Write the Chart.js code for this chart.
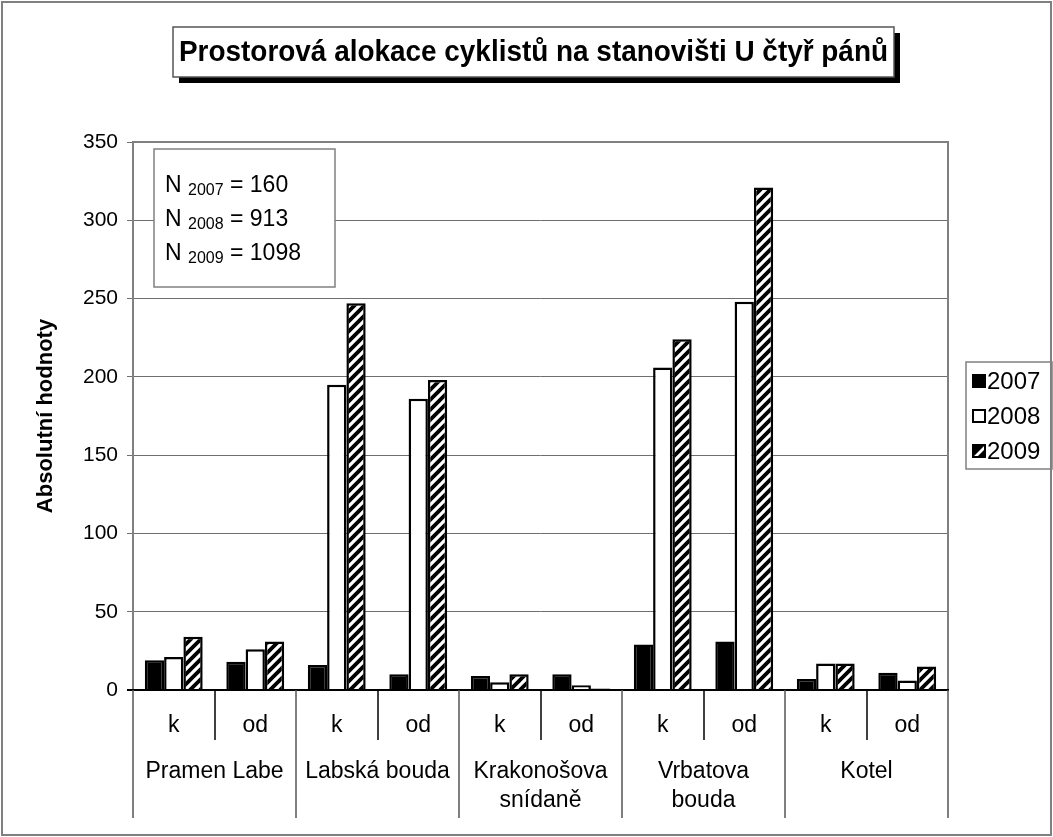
<!DOCTYPE html>
<html>
<head>
<meta charset="utf-8">
<title>Prostorová alokace cyklistů</title>
<script src="https://cdn.jsdelivr.net/npm/chart.js@4.4.1/dist/chart.umd.min.js"></script>
<style>
  body { margin: 0; background: #fff; }
  canvas { display: block; }
</style>
</head>
<body>
<canvas id="alokaceChart" width="1053" height="837"></canvas>
<script>
const stations = ["Pramen Labe", "Labská bouda", ["Krakonošova", "snídaně"], ["Vrbatova", "bouda"], "Kotel"];
const directions = ["k", "od"];
const years = ["2007", "2008", "2009"];

const values2007 = [19, 18, 16, 10, 9, 10, 29, 31, 7, 11];
const values2008 = [21, 26, 195, 186, 5, 3, 206, 248, 17, 6];
const values2009 = [34, 31, 247, 198, 10, 1, 224, 321, 17, 15];

const nTotals = [160, 913, 1098];
const yMax = 350;
const yStep = 50;

const titleText = "Prostorová alokace cyklistů na stanovišti U čtyř pánů";
const yTitle = "Absolutní hodnoty";

const labels = [];
stations.forEach(() => directions.forEach(d => labels.push(d)));

const FONT = "'Liberation Sans', Arial, sans-serif";

// diagonal hatch used for 2009
function makeHatch() {
  const c = document.createElement("canvas");
  c.width = 10;
  c.height = 10;
  const g = c.getContext("2d");
  g.fillStyle = "#fff";
  g.fillRect(0, 0, 10, 10);
  g.strokeStyle = "#000";
  g.lineWidth = 3.8;
  g.beginPath();
  g.moveTo(-5, 5); g.lineTo(5, -5);
  g.moveTo(0, 10); g.lineTo(10, 0);
  g.moveTo(5, 15); g.lineTo(15, 5);
  g.stroke();
  return g.createPattern(c, "repeat");
}
const hatch = makeHatch();
const fills = ["#000", "#fff", hatch];

const decorations = {
  id: "decorations",
  afterDraw(chart) {
    const ctx = chart.ctx;
    const area = chart.chartArea;
    const xs = chart.scales.x;
    ctx.save();

    // outer frame
    ctx.strokeStyle = "#808080";
    ctx.lineWidth = 2;
    ctx.strokeRect(2, 2, 1049, 833);

    // plot frame
    ctx.strokeStyle = "#808080";
    ctx.lineWidth = 2;
    ctx.strokeRect(area.left, area.top, area.right - area.left, area.bottom - area.top);
    ctx.strokeStyle = "#000";
    ctx.beginPath();
    ctx.moveTo(area.left - 6, area.bottom);
    ctx.lineTo(area.right + 1, area.bottom);
    ctx.stroke();

    // category axis: separators and two rows of labels
    const half = (xs.getPixelForValue(1) - xs.getPixelForValue(0)) / 2;
    ctx.lineWidth = 1.5;
    for (let i = 0; i <= labels.length; i++) {
      const x = Math.round(i < labels.length ? xs.getPixelForValue(i) - half : xs.getPixelForValue(i - 1) + half);
      ctx.strokeStyle = i % 2 === 0 ? "#555" : "#000";
      ctx.beginPath();
      ctx.moveTo(x, area.bottom);
      ctx.lineTo(x, i % 2 === 0 ? 818 : 740);
      ctx.stroke();
    }
    ctx.fillStyle = "#000";
    ctx.textAlign = "center";
    ctx.textBaseline = "middle";
    ctx.font = "23px " + FONT;
    labels.forEach((l, i) => ctx.fillText(l, xs.getPixelForValue(i), 726));
    stations.forEach((s, i) => {
      const cx = (xs.getPixelForValue(i * 2) + xs.getPixelForValue(i * 2 + 1)) / 2;
      const lines = Array.isArray(s) ? s : [s];
      lines.forEach((line, j) => ctx.fillText(line, cx, 772 + j * 29));
    });

    // y axis title
    ctx.save();
    ctx.translate(46, 416);
    ctx.rotate(-Math.PI / 2);
    ctx.font = "bold 22px " + FONT;
    ctx.fillText(yTitle, 0, 0);
    ctx.restore();

    // title box with shadow
    ctx.fillStyle = "#000";
    ctx.fillRect(179, 33, 721, 50);
    ctx.fillStyle = "#fff";
    ctx.fillRect(173, 27, 721, 50);
    ctx.strokeStyle = "#555";
    ctx.lineWidth = 1.5;
    ctx.strokeRect(173, 27, 721, 50);
    ctx.fillStyle = "#000";
    ctx.font = "bold 29px " + FONT;
    const tw = ctx.measureText(titleText).width;
    ctx.save();
    ctx.translate(533.5, 53);
    ctx.scale(Math.min(1, 709 / tw), 1);
    ctx.fillText(titleText, 0, 0);
    ctx.restore();

    // sample sizes box
    ctx.fillStyle = "#fff";
    ctx.fillRect(154, 149, 181, 138);
    ctx.strokeStyle = "#808080";
    ctx.lineWidth = 1.5;
    ctx.strokeRect(154, 149, 181, 138);
    ctx.fillStyle = "#000";
    ctx.textAlign = "left";
    ctx.textBaseline = "alphabetic";
    years.forEach((yr, i) => {
      const base = 192 + i * 34;
      let x = 165;
      ctx.font = "23px " + FONT;
      ctx.fillText("N ", x, base);
      x += ctx.measureText("N ").width;
      ctx.font = "16px " + FONT;
      ctx.fillText(yr, x, base + 3);
      x += ctx.measureText(yr).width;
      ctx.font = "23px " + FONT;
      ctx.fillText(" = " + nTotals[i], x, base);
    });

    // legend
    ctx.strokeStyle = "#808080";
    ctx.lineWidth = 1.5;
    ctx.strokeRect(966, 362, 86, 107);
    ctx.font = "24px " + FONT;
    ctx.textBaseline = "middle";
    years.forEach((yr, i) => {
      const cy = 381 + i * 35;
      const sx = 973, sy = cy - 6;
      ctx.fillStyle = i === 0 ? "#000" : "#fff";
      ctx.fillRect(sx, sy, 12, 12);
      if (i === 2) {
        ctx.fillStyle = "#000";
        ctx.beginPath();
        ctx.moveTo(sx, sy);
        ctx.lineTo(sx + 12, sy);
        ctx.lineTo(sx, sy + 12);
        ctx.closePath();
        ctx.moveTo(sx + 12, sy + 4);
        ctx.lineTo(sx + 12, sy + 12);
        ctx.lineTo(sx + 4, sy + 12);
        ctx.closePath();
        ctx.fill();
      }
      ctx.strokeStyle = "#000";
      ctx.lineWidth = 2;
      ctx.strokeRect(sx, sy, 12, 12);
      ctx.fillStyle = "#000";
      ctx.fillText(yr, 987, cy + 1);
    });

    ctx.restore();
  }
};

const datasets = [values2007, values2008, values2009].map((vals, i) => ({
  label: years[i],
  data: vals,
  backgroundColor: fills[i],
  borderColor: "#000",
  borderWidth: 2.5,
  barPercentage: 1.0,
  categoryPercentage: 0.71
}));

new Chart(document.getElementById("alokaceChart"), {
  type: "bar",
  data: { labels: labels, datasets: datasets },
  options: {
    responsive: false,
    animation: false,
    devicePixelRatio: 1,
    layout: { padding: { top: 142, right: 105, left: 0, bottom: 0 } },
    plugins: {
      legend: { display: false },
      title: { display: false },
      tooltip: { enabled: false }
    },
    scales: {
      x: {
        grid: { display: false },
        border: { display: false },
        ticks: { display: false },
        afterFit: (axis) => { axis.height = 147; }
      },
      y: {
        min: 0,
        max: yMax,
        ticks: {
          stepSize: yStep,
          color: "#000",
          padding: 9,
          font: { family: FONT, size: 21 }
        },
        grid: { color: "#6e6e6e", lineWidth: 1, tickLength: 6 },
        border: { display: false },
        afterFit: (axis) => { axis.width = 133; }
      }
    }
  },
  plugins: [decorations]
});
</script>
</body>
</html>
